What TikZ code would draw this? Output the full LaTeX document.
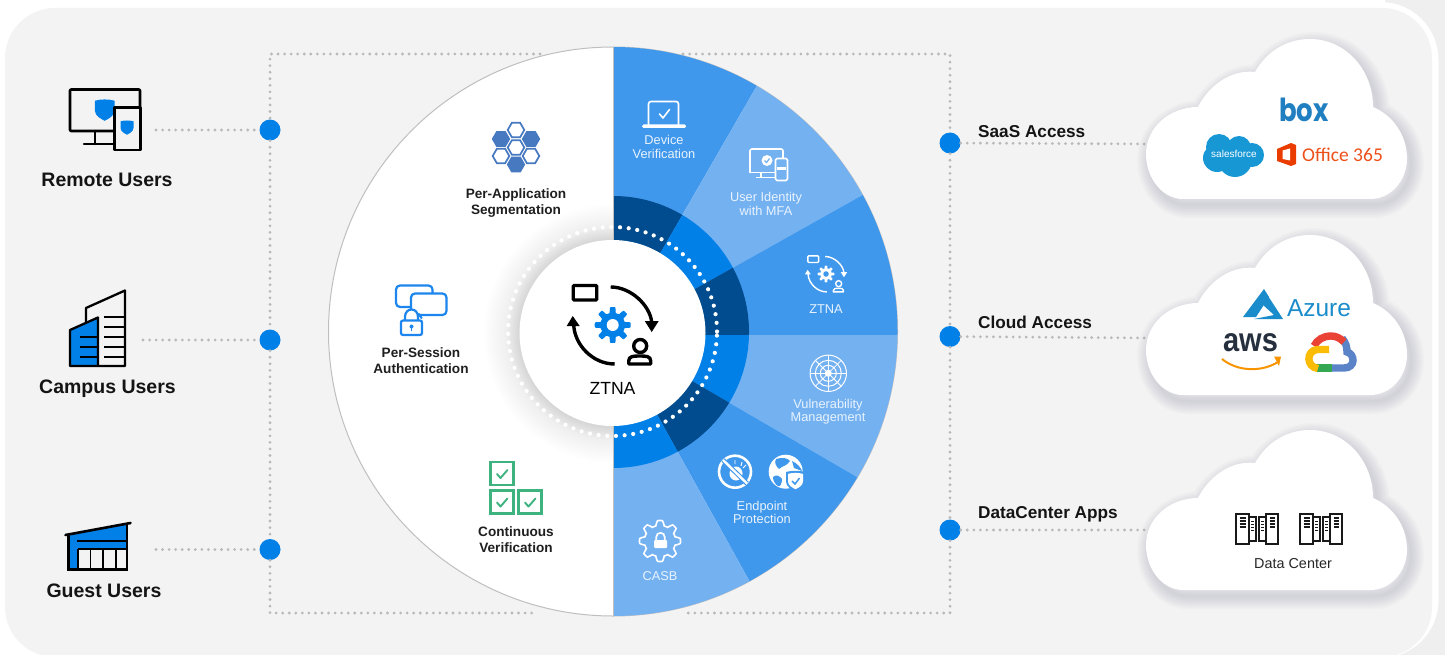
\documentclass[tikz,border=0pt]{standalone}
\usepackage{fontspec}
\usepackage{graphicx}
\setmainfont{Liberation Sans}
\newfontfamily\logofont{Poppins}
\newfontfamily\officefont{Carlito}
\definecolor{panelgrey}{HTML}{F3F3F3}
\definecolor{outergrey}{HTML}{EFEFEF}
\definecolor{dotgrey}{HTML}{B9B9B9}
\definecolor{bluemid}{HTML}{4098EC}
\definecolor{bluelight}{HTML}{74B1F1}
\definecolor{bluedeep}{HTML}{014C8E}
\definecolor{bluebright}{HTML}{0180E8}
\definecolor{sectortext}{HTML}{E9F3FD}
\definecolor{hexblue}{HTML}{4679BF}
\definecolor{chatblue}{HTML}{1C86EE}
\definecolor{checkgreen}{HTML}{3FB37F}
\definecolor{cloudshadow}{HTML}{8F8FA8}
\definecolor{haloinner}{HTML}{D6D6D6}
\definecolor{halomid}{HTML}{EFEFEF}
\definecolor{boxblue}{HTML}{1F7FC0}
\definecolor{sfblue}{HTML}{1798D5}
\definecolor{officered}{HTML}{EB3C00}
\definecolor{azureblue}{HTML}{1A8CCB}
\definecolor{awsdark}{HTML}{252F3E}
\definecolor{awsorange}{HTML}{F79400}
\definecolor{gcpred}{HTML}{EA4335}
\definecolor{gcpblue}{HTML}{5B84C8}
\definecolor{gcpyellow}{HTML}{FBBC05}
\definecolor{gcpgreen}{HTML}{34A853}
\pgfdeclareradialshading{haloshade}{\pgfpointorigin}{color(0bp)=(haloinner); color(18bp)=(haloinner); color(20.5bp)=(halomid); color(25bp)=(white); color(50bp)=(white)}
\tikzset{
  dotline/.style={dotgrey,line width=3.1pt,line cap=round,dash pattern=on 0pt off 6.55pt},
  hub/.style={circle,fill=bluebright,minimum size=21pt,inner sep=0pt},
  userlabel/.style={font=\fontsize{19.5}{22}\selectfont\bfseries,text=black!92,inner sep=0pt},
  accesslabel/.style={font=\fontsize{17.2}{20}\selectfont\bfseries,text=black!92,inner sep=0pt,anchor=west},
  pillarlabel/.style={font=\fontsize{13.6}{16}\selectfont\bfseries,text=black!88,align=center,inner sep=0pt},
  sectorlabel/.style={font=\fontsize{12.8}{13.6}\selectfont,text=sectortext,align=center,inner sep=0pt},
  iconline/.style={line width=2.6pt,line join=round,line cap=round},
  whiteline/.style={white,line width=1.6pt,line join=round,line cap=round},
}
\newcommand\shieldglyph[4]{%
  \fill[#4,shift={(#1,#2)},scale=#3] (-1,-.95) .. controls (-.4,-1.12) and (.4,-1.12) .. (1,-.95) -- (1,.05)
    .. controls (1,.6) and (.4,.9) .. (0,1.1) .. controls (-.4,.9) and (-1,.6) .. (-1,.05) -- cycle;}
\newcommand\gearfill[4]{%
  \fill[#4,shift={(#1,#2)}] plot[domain=0:360,samples=161] (\x:{#3*(.84+.16*max(-1,min(1,2.5*cos(8*\x))))}) -- cycle;}
\newcommand\ztnaglyph[7]{%
  \begin{scope}[shift={(#1,#2)},scale=#3]
    \draw[#4,line width=#7,rounded corners=1pt] (-39.5,-39.5) rectangle (-16,-25);
    \draw[#4,line width=#7] (-2,-38) .. controls (18,-38) and (37,-20) .. (39,-3);
    \fill[#4] (39,7) -- (32,-4) -- (46,-4) -- cycle;
    \draw[#4,line width=#7] (2,39) .. controls (-20,39) and (-38,20) .. (-39,0);
    \fill[#4] (-40,-9) -- (-46,1) -- (-33,1) -- cycle;
    \gearfill{0}{0}{18}{#5}
    \fill[#6] (0,0) circle (6pt);
    \draw[#4,line width=#7] (27.5,21) circle (6.5pt);
    \draw[#4,line width=#7,line join=round] (16,39) -- (38,39) -- (38,36) .. controls (38,31) and (33,31) .. (27,31)
      .. controls (21,31) and (16,31) .. (16,36) -- cycle;
  \end{scope}}
\newcommand\cloudshape[1]{%
  \path[#1] (53,170) -- (240,170) .. controls (262,170) and (277,150) .. (277,130)
    .. controls (277,105) and (262,86) .. (243,78) .. controls (243,40) and (215,10) .. (180,10)
    .. controls (157,10) and (137,22) .. (125,43) .. controls (100,40) and (78,58) .. (68,78)
    .. controls (40,78) and (16,98) .. (16,125) .. controls (16,150) and (33,170) .. (53,170) -- cycle;}
\newcommand\serverglyph[2]{%
  \begin{scope}[shift={(#1,#2)},black!90,line width=1.3pt]
    \draw (0,1) rectangle (13,31);
    \draw (13,4) rectangle (20,28);
    \draw (23,4) rectangle (30,28);
    \draw (30,1) rectangle (42,31);
    \foreach \yy in {5,8,11,14} {
      \draw (3.5,\yy) -- (9.5,\yy);
      \draw (33.5,\yy) -- (39,\yy);
    }
    \foreach \yy in {8,11,14,17} {
      \draw[line width=.8pt] (15,\yy) -- (18,\yy);
      \draw[line width=.8pt] (25,\yy) -- (28,\yy);
    }
  \end{scope}}
\begin{document}
\begin{tikzpicture}[x=1pt,y=-1pt]
\useasboundingbox (0,0) rectangle (1445,655);
% panel
\fill[outergrey] (1385,0) rectangle (1445,655);
\fill[white,rounded corners=58pt] (1200,2) rectangle (1438.5,658);
\fill[panelgrey,rounded corners=50pt] (5,8) rectangle (1432,657);
% hubs and frame
\node[hub] (hubRemote) at (270,130) {};
\node[hub] (hubCampus) at (270,340) {};
\node[hub] (hubGuest) at (270,549.5) {};
\node[hub] (hubSaas) at (950,143) {};
\node[hub] (hubCloud) at (950,336.5) {};
\node[hub] (hubData) at (950,530) {};
\coordinate (frameTL) at (270,54);
\coordinate (frameTopL) at (540,54);
\coordinate (frameBL) at (270,613);
\coordinate (frameBotL) at (535,613);
\coordinate (frameTR) at (950,54);
\coordinate (frameTopR) at (683,54);
\coordinate (frameBR) at (950,613);
\coordinate (frameBotR) at (685,613);
\draw[dotline] (frameTopL) -- (frameTL) -- (hubRemote);
\draw[dotline] (hubRemote) -- (hubCampus);
\draw[dotline] (hubCampus) -- (hubGuest);
\draw[dotline] (hubGuest) -- (frameBL) -- (frameBotL);
\draw[dotline] (frameTopR) -- (frameTR) -- (hubSaas);
\draw[dotline] (hubSaas) -- (hubCloud);
\draw[dotline] (hubCloud) -- (hubData);
\draw[dotline] (hubData) -- (frameBR) -- (frameBotR);
\coordinate (remoteIcon) at (156,130);
\coordinate (campusIcon) at (143,340);
\coordinate (guestIcon) at (156,549.5);
\coordinate (saasCloud) at (1150,144);
\coordinate (cloudCloud) at (1150,338);
\coordinate (dataCloud) at (1150,530);
\draw[dotline] (remoteIcon) -- (hubRemote);
\draw[dotline] (campusIcon) -- (hubCampus);
\draw[dotline] (guestIcon) -- (hubGuest);
\draw[dotline] (hubSaas) -- (saasCloud);
\draw[dotline] (hubCloud) -- (cloudCloud);
\draw[dotline] (hubData) -- (dataCloud);
% big disc
\fill[white] (613,331.5) circle (284.5pt);
\draw[black!25,line width=1pt] (613,331.5) circle (284.5pt);
\shade[shading=haloshade] (612.5,333) circle (130pt);
\begin{scope}
  \clip (613.5,0) rectangle (1000,655);
  \clip (613,331.5) circle (284.5pt);
  \foreach \a/\b/\c in {-90/-60/bluemid,-60/-29.3/bluelight,-29.3/0/bluemid,0/30.2/bluelight,30.2/61/bluemid,61/90/bluelight}
    \fill[\c] (613,335) -- +(\a:400) -- +(\b:400) -- cycle;
  \clip (613,332) circle (136pt);
  \foreach \a/\b/\c in {-90/-60/bluedeep,-60/-29.3/bluebright,-29.3/0/bluedeep,0/30.2/bluebright,30.2/61/bluedeep,61/90/bluebright}
    \fill[\c] (613,335) -- +(\a:400) -- +(\b:400) -- cycle;
\end{scope}
\draw[black!25,line width=1pt] (613,47) -- (613,616);
\draw[white,line width=4.2pt,line cap=round,dash pattern=on 0pt off 8.7pt] (612.5,331.5) circle (104.5pt);
\fill[white] (612.5,333) circle (93pt);
\ztnaglyph{612.7}{325}{1}{black}{bluebright}{white}{3.4pt}
\node[font=\fontsize{17.6}{20}\selectfont,inner sep=0pt] (centerLabel) at (612.5,388) {ZTNA};
% left pillars
\foreach \hx/\hy/\hsolid in {516/130/0,501/139/1,531/139/1,516/147.5/0,501/156/0,531/156/0,516/164.5/1} {
  \ifnum\hsolid=1
    \fill[hexblue] (\hx,\hy) +(0:9.2) -- +(60:9.2) -- +(120:9.2) -- +(180:9.2) -- +(240:9.2) -- +(300:9.2) -- cycle;
  \else
    \draw[hexblue,line width=1.7pt] (\hx,\hy) +(0:8.3) -- +(60:8.3) -- +(120:8.3) -- +(180:8.3) -- +(240:8.3) -- +(300:8.3) -- cycle;
  \fi
}
\node[pillarlabel] (pillarApp) at (516,203) {Per-Application\\Segmentation};
\draw[chatblue,line width=2.2pt,rounded corners=4pt] (396,307) -- (396,285.5) -- (432.5,285.5) -- (432.5,307) -- cycle;
\draw[chatblue,fill=white,line width=2.2pt,rounded corners=4pt] (411,293.5) rectangle (446.5,315);
\draw[chatblue,line width=2.2pt,line cap=round] (419,314) -- (421.5,318);
\draw[chatblue,fill=white,line width=2.2pt] (405,321) -- (405,317) .. controls (405,307) and (418,307) .. (418,317) -- (418,321);
\draw[chatblue,fill=white,line width=2.2pt,rounded corners=2pt] (401,320.5) rectangle (422,335);
\fill[chatblue] (411.5,326.5) circle (2pt);
\fill[chatblue] (410.7,327) rectangle (412.3,331);
\node[pillarlabel] (pillarSession) at (421,361) {Per-Session\\Authentication};
\foreach \bx/\by in {490.5/462,490.5/490.5,518.5/490.5} {
  \draw[checkgreen,line width=2.2pt] (\bx,\by) rectangle +(23,23);
  \draw[checkgreen,line width=1.9pt,line cap=round,line join=round] (\bx+6.5,\by+12) -- (\bx+10,\by+16) -- (\bx+17,\by+8);
}
\node[pillarlabel] (pillarVerify) at (516,540) {Continuous\\Verification};
% sectors
\draw[whiteline,rounded corners=2.5pt] (648.5,124.5) -- (648.5,101.5) -- (678.5,101.5) -- (678.5,124.5);
\fill[white,rounded corners=1.5pt] (642,124.5) rectangle (686,128);
\draw[whiteline] (659.5,114) -- (663,118) -- (669.5,109.5);
\node[sectorlabel] (secDevice) at (664,147) {Device\\Verification};
\draw[whiteline,rounded corners=2pt] (750,172.5) -- (750,149) -- (783,149) -- (783,160);
\draw[whiteline] (750,172.5) -- (775,172.5);
\draw[white,line width=1.5pt] (761,172.5) -- (761,177) (756,177.5) -- (775,177.5);
\fill[white] (767,160.5) circle (5.5pt);
\draw[bluelight,line width=1.2pt] (764.5,160.5) -- (766.5,162.5) -- (769.5,158.5);
\draw[whiteline,fill=bluelight,rounded corners=1.5pt] (775.5,158.5) rectangle (787.5,180.5);
\fill[white] (777,167) rectangle (786,170);
\node[sectorlabel] (secIdentity) at (766,204) {User Identity\\with MFA};
\ztnaglyph{826}{274}{.46}{white}{white}{bluemid}{1.4pt}
\node[sectorlabel] (secZtna) at (826,309.5) {ZTNA};
\draw[white,line width=1pt] (828.3,373.3) circle (18.2pt) circle (13pt) circle (8pt);
\fill[white] (828.3,373.3) circle (3.5pt);
\foreach \a in {0,45,...,315}
  \draw[white,line width=.8pt] (828.3,373.3) -- +(\a:18);
\node[sectorlabel] (secVuln) at (828,411.5) {Vulnerability\\Management};
\draw[white,line width=2.6pt] (735,471.7) circle (16pt);
\fill[white] (736,473.5) ellipse (6.5pt and 7pt);
\draw[white,line width=.9pt] (727,465) -- (730,468) (743,468) -- (746,465) (735,460) -- (735,464) (742,462) -- (741,466);
\draw[bluemid,line width=4.6pt] (723,460) -- (747,483.5);
\draw[white,line width=2.4pt] (723,460) -- (747,483.5);
\fill[white] (785.7,471.7) circle (17pt);
\fill[bluemid] (776,459) .. controls (782,457) and (788,458) .. (790,461) .. controls (787,466) and (782,466) .. (779,469) .. controls (776,466) and (774,463) .. (776,459) -- cycle;
\fill[bluemid] (773,477) .. controls (776,474) and (780,476) .. (782,479) .. controls (782,484) and (780,487) .. (778,486) .. controls (775,484) and (773,481) .. (773,477) -- cycle;
\fill[bluemid] (792,461) .. controls (797,463) and (801,468) .. (802,471) -- (794,468) -- cycle;
\shieldglyph{795.5}{481}{9.5}{bluemid}
\shieldglyph{795.5}{481}{7.5}{white}
\draw[bluemid,line width=1.5pt] (792,481) -- (795,484) -- (799.5,478);
\node[sectorlabel] (secEndpoint) at (762,512.5) {Endpoint\\Protection};
\draw[white,line width=1.6pt,shift={(660,541)}] plot[domain=0:360,samples=161] (\x:{20.5*(.88+.12*max(-1,min(1,1.7*cos(8*\x))))}) -- cycle;
\draw[white,line width=1.7pt] (656.3,541) -- (656.3,537) .. controls (656.3,531.5) and (664.7,531.5) .. (664.7,537) -- (664.7,541);
\fill[white,rounded corners=1pt] (654,540) rectangle (667,548);
\node[sectorlabel] (secCasb) at (660,576.5) {CASB};
% user icons
\draw[iconline,rounded corners=1pt] (115,131) -- (70,131) -- (70,89.5) -- (140,89.5) -- (140,107);
\draw[iconline] (95,131) -- (95,144) (84,144) -- (114,144);
\shieldglyph{104.7}{110}{9.8}{bluebright}
\draw[iconline,fill=panelgrey] (114.5,107.5) rectangle (140.5,150);
\shieldglyph{127}{127.5}{6.5}{bluebright}
\node[userlabel] (labelRemote) at (107,180) {Remote Users};
\draw[iconline,line width=2.3pt] (86,322) -- (86,308) -- (125,290.5) -- (125,366) -- (98,366);
\draw[iconline,line width=2.3pt,fill=bluebright] (70,330) -- (98,317.5) -- (98,366) -- (70,366) -- cycle;
\foreach \yy in {317,327,337,347,357}
  \draw[line width=2pt] (104,\yy) -- (125,\yy);
\foreach \yy in {337,347,357}
  \draw[line width=2pt] (80,\yy) -- (98,\yy);
\node[userlabel] (labelCampus) at (107.5,388.5) {Campus Users};
\fill[bluebright] (68,535) -- (127,524) -- (127,569) -- (68,569) -- cycle;
\fill[panelgrey] (78,549) rectangle (127,569);
\draw[line width=2.2pt] (68.5,535) -- (68.5,569.5) -- (127,569.5) -- (127,524);
\draw[line width=2.6pt,line cap=round] (65.5,535) -- (130.5,523);
\draw[line width=2pt] (77,541) -- (127,541) (78,549) -- (127,549);
\foreach \xx in {78,90.5,103,116}
  \draw[line width=1.8pt] (\xx,549) -- (\xx,569);
\node[userlabel] (labelGuest) at (104,591) {Guest Users};
% access labels
\node[accesslabel] (labelSaas) at (978,131.5) {SaaS Access};
\node[accesslabel] (labelCloud) at (978,322) {Cloud Access};
\node[accesslabel] (labelData) at (978,514.5) {DataCenter Apps};
% clouds
\foreach \cy in {29,225,420} {
  \begin{scope}[shift={(1130,\cy)}]
    \begin{scope}[shift={(4,6)}]
      \foreach \w in {26,23,...,2} {
        \cloudshape{draw=cloudshadow,line width=\w pt,line join=round,opacity=.04}
      }
    \end{scope}
    \cloudshape{fill=white}
  \end{scope}
}
% saas logos
\node[font=\logofont\bfseries\fontsize{26}{30}\selectfont,text=boxblue,inner sep=0pt] (logoBox) at (1304,110) {\scalebox{1}[1.22]{box}};
\foreach \sx/\sy/\sr in {1219/147/13,1239/148/12,1252/155/12,1217/158/14,1235/160/17}
  \fill[sfblue] (\sx,\sy) circle (\sr pt);
\node[font=\fontsize{10}{12}\selectfont,text=white,inner sep=0pt] (logoSales) at (1234,154) {salesforce};
\fill[officered] (1277,149) -- (1291,143) -- (1296,145) -- (1296,164) -- (1291,166) -- (1277,161) -- cycle;
\fill[white] (1282.5,150.5) -- (1290,148.5) -- (1290,160.5) -- (1282.5,159) -- cycle;
\node[font=\officefont\fontsize{19.5}{22}\selectfont,text=officered!90,inner sep=0pt,anchor=west] (logoOffice) at (1302,155) {Office 365};
% cloud logos
\fill[azureblue] (1264,289) -- (1243,317) -- (1256,317) -- (1269,297) -- cycle;
\fill[azureblue] (1268,296) -- (1283,319) -- (1254,319) -- (1274,315) -- (1262,304) -- cycle;
\node[font=\fontsize{24.5}{27}\selectfont,text=azureblue,inner sep=0pt] (logoAzure) at (1319,308) {Azure};
\node[font=\fontsize{29}{32}\selectfont\bfseries,text=awsdark,inner sep=0pt] (logoAws) at (1250.5,343) {\scalebox{1}[1.15]{aws}};
\draw[awsorange,line width=2pt] (1222,359) .. controls (1238,372) and (1262,372) .. (1278,362);
\fill[awsorange] (1274,356.5) -- (1281,356.5) -- (1279,366) -- cycle;
\draw[line width=7.4pt,gcpblue] (1342,338) .. controls (1346,343) and (1347,347) .. (1347,352) .. controls (1355,354) and (1356,368) .. (1344,368) -- (1331,368);
\draw[line width=7.4pt,gcpred] (1314,346) .. controls (1317,340) and (1323,336) .. (1331,336) .. controls (1336,336) and (1340,338) .. (1344,342);
\draw[line width=7.4pt,gcpgreen] (1331.5,368) -- (1316,368);
\draw[line width=7.4pt,gcpyellow] (1318,368.5) .. controls (1306,367) and (1306,351) .. (1317,349.5) -- (1329,349.5);
% data center
\serverglyph{1236}{513}
\serverglyph{1300}{513}
\node[font=\fontsize{14.4}{17}\selectfont,inner sep=0pt,text=black!85] (logoData) at (1293,563.5) {Data Center};
\end{tikzpicture}
\end{document}
